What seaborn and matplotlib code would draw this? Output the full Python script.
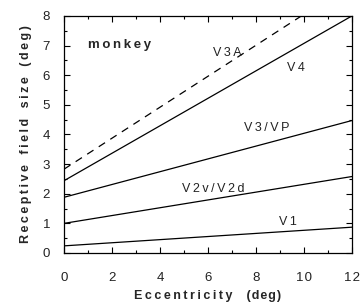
import pandas as pd
import numpy as np
import seaborn as sns
import matplotlib
matplotlib.use("Agg")
import matplotlib.pyplot as plt
from matplotlib.ticker import MultipleLocator, FuncFormatter

# line endpoints (eccentricity 0 and 12 deg)
ecc = [0, 12]
v1 = [0.24, 0.87]
v2 = [1.0, 2.58]
v3 = [1.88, 4.47]
v4 = [2.44, 8.0]
v3a = [2.83, 9.1]

areas = ["V1", "V2v/V2d", "V3/VP", "V4", "V3A"]
label_x = [8.95, 4.9, 7.5, 9.3, 6.2]
label_y = [1.05, 2.16, 4.22, 6.25, 6.76]

THIN = "\u2009"
HAIR = "\u200a"


def track(s, sep=THIN):
    # the original uses wide letter spacing
    return sep.join(s)


rows = []
for name, vals in zip(areas, [v1, v2, v3, v4, v3a]):
    for x, y in zip(ecc, vals):
        rows.append({"area": name, "ecc": x, "rf": y})
df = pd.DataFrame(rows)

sns.set_style("ticks")
plt.rcParams["font.family"] = ["Liberation Sans", "DejaVu Sans"]

fig = plt.figure(figsize=(3.62, 3.07), dpi=100)
ax = fig.add_axes([0.177, 0.176, 0.795, 0.772])

sns.lineplot(data=df, x="ecc", y="rf", hue="area", style="area",
             palette={a: "black" for a in areas},
             dashes={"V1": "", "V2v/V2d": "", "V3/VP": "", "V4": "", "V3A": (6, 5)},
             linewidth=0.9, legend=False, ax=ax)

for name, lx, ly in zip(areas, label_x, label_y):
    ax.text(lx, ly, track(name), fontsize=9, color="#222222", va="center", ha="left")
ax.text(1.0, 7.03, track("monkey"), fontsize=9.5, fontweight="bold", va="center", ha="left")

ax.set_xlim(0, 12)
ax.set_ylim(0, 8)
ax.xaxis.set_major_locator(MultipleLocator(2))
ax.xaxis.set_minor_locator(MultipleLocator(1))
ax.yaxis.set_major_locator(MultipleLocator(1))
ax.yaxis.set_minor_locator(MultipleLocator(0.5))
ax.xaxis.set_major_formatter(FuncFormatter(lambda v, p: track(str(int(v)), HAIR)))
ax.tick_params(which="both", direction="in", top=True, right=True, labelsize=9.5,
               labelcolor="#222222", color="black", width=0.8)
ax.tick_params(which="major", length=4)
ax.tick_params(which="minor", length=2.5)
ax.tick_params(axis="x", which="major", pad=14)
ax.tick_params(axis="y", which="major", pad=10)
for s in ax.spines.values():
    s.set_linewidth(0.9)
    s.set_color("black")

ax.set_xlabel(track("Eccentricity") + "    " + track("(deg)", HAIR),
              fontsize=9, fontweight="bold", labelpad=4)
ax.set_ylabel("   ".join(track(w) for w in ["Receptive", "field", "size", "(deg)"]),
              fontsize=9, fontweight="bold", labelpad=8)

fig.savefig("out.png", dpi=100)
